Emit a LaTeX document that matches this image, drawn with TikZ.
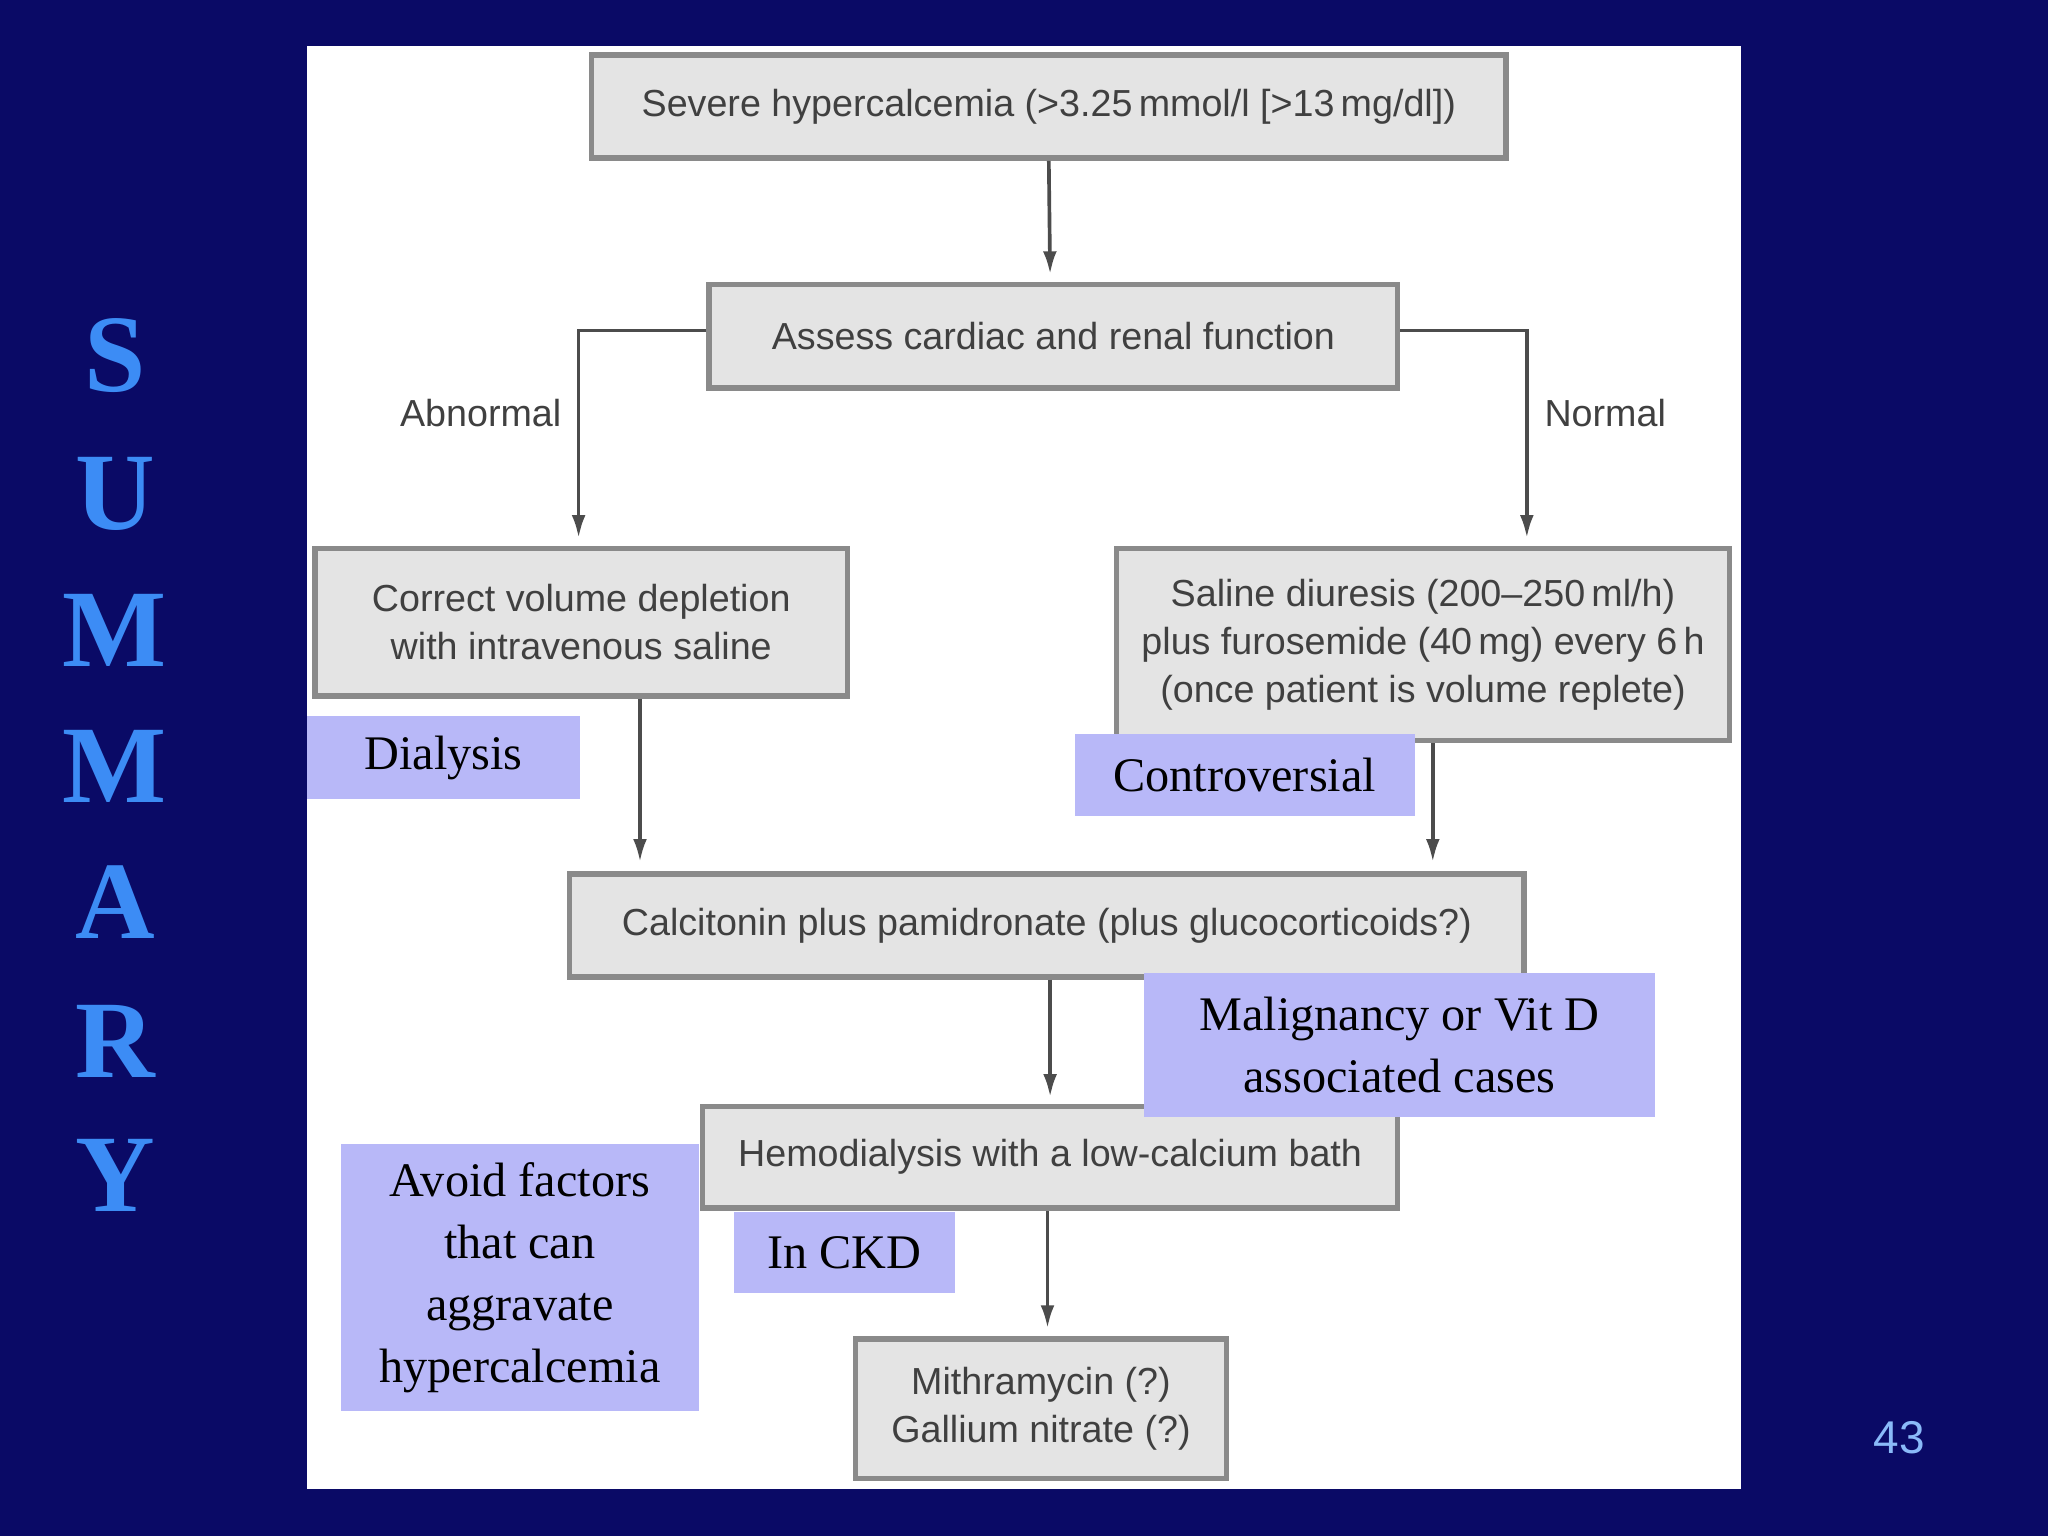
\documentclass[tikz,border=0pt]{standalone}
\usepackage{fontspec}
\setmainfont{Liberation Serif}
\newfontfamily\boxfont{Liberation Sans}
\usetikzlibrary{arrows.meta}
\definecolor{navy}{HTML}{0A0A66}
\definecolor{boxgray}{HTML}{E4E4E4}
\definecolor{edgegray}{HTML}{8A8A8A}
\definecolor{lav}{HTML}{B8B8F8}
\definecolor{sumblue}{HTML}{3C8CF5}
\tikzset{
  x=0.01cm, y=-0.01cm,
  sz/.style 2 args={minimum width=#1*0.01cm, minimum height=#2*0.01cm},
  flow/.style={draw=edgegray, line width=1.2pt, fill=boxgray, inner sep=0pt, align=center,
    font=\boxfont\fontsize{8.2}{10.4}\selectfont, text=black!75},
  note/.style={fill=lav, inner sep=0pt, align=center, font=\fontsize{10.5}{13.5}\selectfont},
  lbl/.style={font=\boxfont\fontsize{8.2}{10}\selectfont, text=black!75},
  arr/.style={draw=black!70, line width=0.8pt, -{Latex[length=5pt,width=3pt]}},
  letter/.style={text=sumblue, font=\bfseries\fontsize{24}{24}\selectfont}
}
\begin{document}
\begin{tikzpicture}
\fill[navy] (0,0) rectangle (1568,1176);
\fill[white] (235,35) rectangle (1333,1140);
% flow boxes
\node[flow, sz={700}{79}] (sev) at (803,81.5) {Severe hypercalcemia (>3.25\,mmol/l [>13\,mg/dl])};
\node[flow, sz={527}{79}] (ass) at (806.5,257.5) {Assess cardiac and renal function};
\node[flow, sz={408}{113}] (cor) at (445,476.5) {Correct volume depletion\\with intravenous saline};
\node[flow, sz={469}{147}] (sal) at (1089.5,493.5) {Saline diuresis (200\textendash250\,ml/h)\\plus furosemide (40\,mg) every 6\,h\\(once patient is volume replete)};
\node[flow, sz={731}{79}] (cal) at (801.5,708.5) {Calcitonin plus pamidronate (plus glucocorticoids?)};
\node[flow, sz={532}{78}] (hem) at (804,886) {Hemodialysis with a low-calcium bath};
\node[flow, sz={284}{107}] (mit) at (797,1078.5) {Mithramycin (?)\\Gallium nitrate (?)};
% connectors
\coordinate (cl) at (443,253);
\coordinate (cr) at (1169,253);
\draw[arr] (sev.south) -- (804,210);
\draw[arr] (ass.west |- cl) -- (cl) -- (443,412);
\draw[arr] (ass.east |- cr) -- (cr) -- (1169,412);
\draw[arr] (cor.south -| 490,0) -- (490,660);
\draw[arr] (sal.south -| 1097,0) -- (1097,660);
\draw[arr] (cal.south -| 804,0) -- (804,840);
\draw[arr] (hem.south -| 802,0) -- (802,1017);
\node[lbl] (ab) at (368,316) {Abnormal};
\node[lbl] (no) at (1229,316) {Normal};
% notes
\node[note, sz={209}{64}] (dia) at (339.5,580) {Dialysis};
\node[note, sz={260}{63}] (con) at (953,593.5) {Controversial};
\node[note, sz={391}{110}] (mal) at (1071.5,800) {Malignancy or Vit D\\associated cases};
\node[note, sz={274}{204}] (avo) at (398,978) {Avoid factors\\that can\\aggravate\\hypercalcemia};
\node[note, sz={169}{62}] (ckd) at (646.5,959) {In CKD};
% side title
\foreach \l/\yy [count=\i] in {S/272,U/378,M/483,M/587,A/691,R/797,Y/900}
  \node[letter] (s\i) at (88,\yy) {\l};
\node[text=sumblue!60!white, font=\boxfont\fontsize{10}{10}\selectfont] (pg) at (1454,1101) {43};
\end{tikzpicture}
\end{document}
